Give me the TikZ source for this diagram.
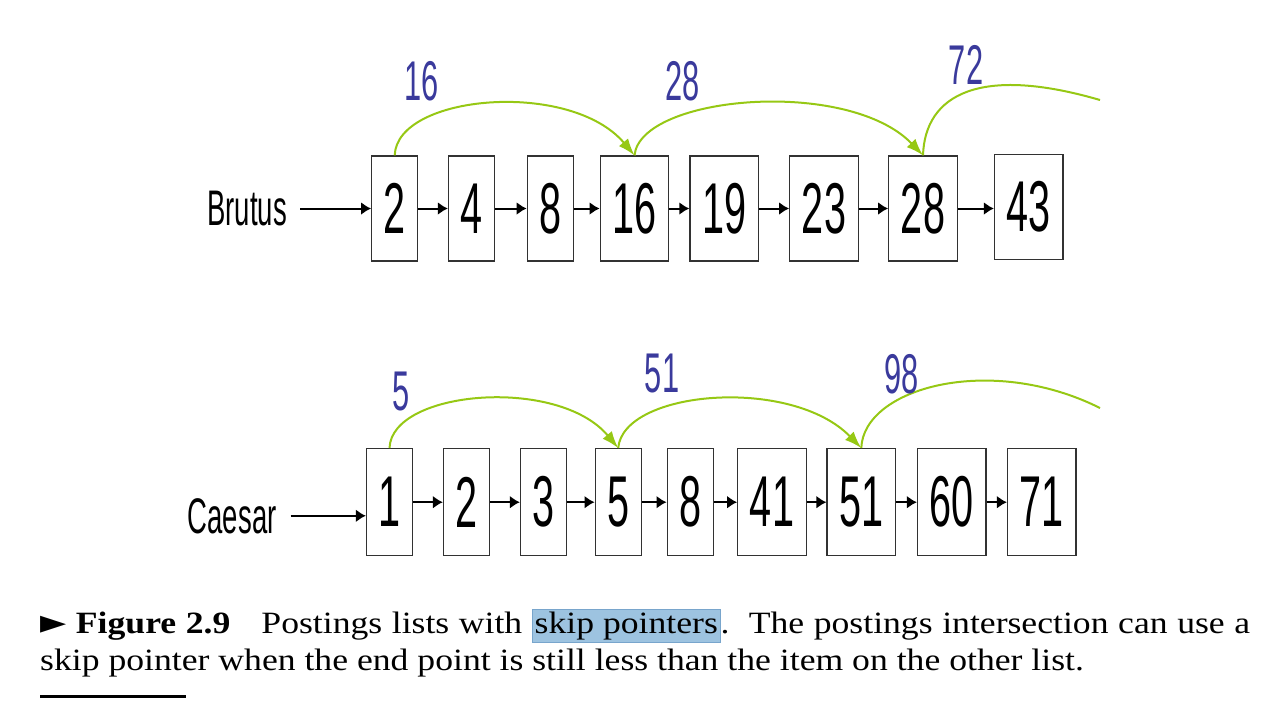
\documentclass[tikz,border=0pt]{standalone}
\usepackage{fontspec}
\setmainfont[FakeStretch=1.15]{Liberation Serif}
\newfontfamily\numfont[FakeStretch=0.55]{Liberation Sans}
\newfontfamily\dejavu{DejaVu Sans}
\usetikzlibrary{arrows.meta}
\definecolor{skipgreen}{RGB}{150,200,20}
\definecolor{labblue}{RGB}{58,58,156}
\definecolor{boxgray}{RGB}{50,50,50}
\definecolor{hlfill}{RGB}{157,195,224}
\definecolor{hlborder}{RGB}{120,165,204}
\newcommand{\hlmark}[1]{{\setlength{\fboxsep}{2pt}\setlength{\fboxrule}{0.8pt}\fcolorbox{hlborder}{hlfill}{#1}}}
\tikzset{
  pbox/.style={draw=boxgray, line width=1.3pt, minimum width=46pt, minimum height=105pt, inner sep=0pt,
    font=\numfont\fontsize{72}{72}\selectfont},
  wbox/.style={pbox, minimum width=68.5pt},
  term/.style={inner sep=0pt, font=\numfont\fontsize{50}{50}\selectfont},
  skiplab/.style={inner sep=0pt, text=labblue, font=\numfont\fontsize{56}{56}\selectfont},
  nextarr/.style={line width=2pt, -{Latex[length=10pt,width=13pt]}},
  skiparr/.style={draw=skipgreen, line width=2pt, -{Latex[length=17pt,width=12pt]}},
  caption/.style={inner sep=0pt, anchor=base west, font=\fontsize{31}{37}\selectfont}
}
\begin{document}
\begin{tikzpicture}[x=1pt,y=-1pt]
\useasboundingbox (0,0) rectangle (1274,716);
% Brutus list
\node[term, anchor=base east] (brutus) at (287,225) {Brutus};
\node[pbox] (b1) at (394.7,208.5) {2};
\node[pbox] (b2) at (471.5,208.5) {4};
\node[pbox] (b3) at (550.3,208.5) {8};
\node[wbox] (b4) at (634.5,208.5) {16};
\node[wbox] (b5) at (724.2,208.5) {19};
\node[wbox] (b6) at (824,208.5) {23};
\node[wbox] (b7) at (923,208.5) {28};
\node[wbox] (b8) at (1028.8,207.2) {43};
\draw[nextarr, shorten <=13pt] (brutus.east |- b1.west) -- (b1.west);
\draw[nextarr] (b1.east) -- (b2.west);
\draw[nextarr] (b2.east) -- (b3.west);
\draw[nextarr] (b3.east) -- (b4.west);
\draw[nextarr] (b4.east) -- (b5.west);
\draw[nextarr] (b5.east) -- (b6.west);
\draw[nextarr] (b6.east) -- (b7.west);
\draw[nextarr] (b7.east) -- (b8.west |- b7.east);
\coordinate (bend) at (1100,100);
\draw[skiparr] (b1.north) .. controls +(2,-61) and +(-64,-76) .. (b4.north);
\draw[skiparr] (b4.north) .. controls +(6,-60) and +(-75,-78) .. (b7.north);
\draw[draw=skipgreen, line width=2pt] (b7.north) .. controls +(2,-61) and +(-120,-35) .. (bend);
\node[skiplab] (l16) at (421.5,81) {16};
\node[skiplab] (l28) at (682.5,81.7) {28};
\node[skiplab] (l72) at (966,65) {72};
% Caesar list
\node[term, anchor=base east] (caesar) at (276.7,533) {Caesar};
\node[pbox, minimum height=107pt] (c1) at (389.5,502.2) {1};
\node[pbox, minimum height=107pt] (c2) at (466.5,502.2) {2};
\node[pbox, minimum height=107pt] (c3) at (543.5,502.2) {3};
\node[pbox, minimum height=107pt] (c4) at (618.2,502.2) {5};
\node[pbox, minimum height=107pt] (c5) at (690.2,502.2) {8};
\node[wbox, minimum height=107pt] (c6) at (772,502.2) {41};
\node[wbox, minimum height=107pt] (c7) at (861.3,502.2) {51};
\node[wbox, minimum height=107pt] (c8) at (951.8,502.2) {60};
\node[wbox, minimum height=107pt] (c9) at (1041.8,502.2) {71};
\draw[nextarr, shorten <=14pt] (caesar.east) -- (caesar.east -| c1.west);
\draw[nextarr] (c1.east) -- (c2.west);
\draw[nextarr] (c2.east) -- (c3.west);
\draw[nextarr] (c3.east) -- (c4.west);
\draw[nextarr] (c4.east) -- (c5.west);
\draw[nextarr] (c5.east) -- (c6.west);
\draw[nextarr] (c6.east) -- (c7.west);
\draw[nextarr] (c7.east) -- (c8.west);
\draw[nextarr] (c8.east) -- (c9.west);
\coordinate (cend) at (1100,408);
\draw[skiparr] (c1.north) .. controls +(2,-58) and +(-60,-72) .. (c4.north);
\draw[skiparr] (c4.north) .. controls +(5,-58) and +(-70,-72) .. (c7.north);
\draw[draw=skipgreen, line width=2pt] (c7.north) .. controls +(2,-60) and +(-110,-55) .. (cend);
\node[skiplab] (l5) at (401.5,391) {5};
\node[skiplab] (l51) at (662,373) {51};
\node[skiplab] (l98) at (901.5,374) {98};
% caption
\node[caption] (cap1) at (40,633.3) {\makebox[1210pt][s]{{\dejavu\fontsize{34}{34}\selectfont ►}\ \textbf{Figure 2.9}\quad Postings lists with \hlmark{skip pointers}.\ \ The postings intersection can use a}};
\node[caption] (cap2) at (40,670) {skip pointer when the end point is still less than the item on the other list.};
\draw[line width=3pt] (40,696) -- (186,696);
\end{tikzpicture}
\end{document}
